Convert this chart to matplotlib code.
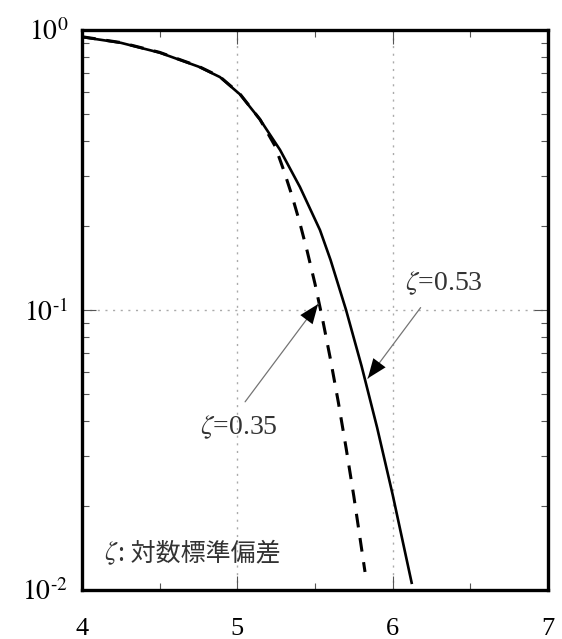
import matplotlib
matplotlib.use("Agg")
import matplotlib.pyplot as plt
from matplotlib.ticker import LogLocator, MultipleLocator, NullFormatter

plt.rcParams['font.family'] = ['Liberation Serif', 'Noto Sans CJK JP', 'DejaVu Sans']
plt.rcParams['mathtext.fontset'] = 'stix'

# Solid curve (zeta = 0.53)
solid_x = [4.0, 4.25, 4.5, 4.75, 4.888, 5.017, 5.146, 5.275, 5.403, 5.532, 5.6,
           5.70, 5.80, 5.90, 6.00, 6.124]
solid_y = [0.944, 0.90, 0.83, 0.74, 0.679, 0.589, 0.479, 0.373, 0.275, 0.193, 0.151,
           0.100, 0.063, 0.038, 0.0219, 0.0105]

# Dashed curve (zeta = 0.35)
dash_x = [4.0, 4.25, 4.5, 4.75, 4.888, 5.017, 5.146, 5.243, 5.30, 5.35, 5.40, 5.45,
          5.50, 5.55, 5.60, 5.65, 5.70, 5.75, 5.822]
dash_y = [0.946, 0.902, 0.832, 0.742, 0.681, 0.591, 0.479, 0.385, 0.314, 0.258, 0.207, 0.162,
          0.124, 0.0919, 0.0665, 0.0469, 0.0322, 0.0216, 0.0116]

x_ticks = [4, 5, 6, 7]
x_tick_labels = ['4', '5', '6', '7']
y_ticks = [1e-2, 1e-1, 1e0]
y_tick_labels = ['$10^{\u20102}$', '$10^{\u20101}$', '$10^{0}$']

fig = plt.figure(figsize=(5.62, 6.39), dpi=100)
ax = fig.add_axes([82/562, 1-590/639, (548-82)/562, (590-30)/639])

ax.plot(solid_x, solid_y, color='black', lw=1.9, solid_capstyle='butt')
ax.plot(dash_x, dash_y, color='black', lw=2.2, dashes=(4.5, 3.5))

ax.set_yscale('log')
ax.set_xlim(4, 7)
ax.set_ylim(1e-2, 1e0)

ax.set_xticks(x_ticks)
ax.set_xticklabels(x_tick_labels, fontsize=19)
ax.xaxis.set_minor_locator(MultipleLocator(0.5))
ax.set_yticks(y_ticks)
ax.set_yticklabels(y_tick_labels, fontsize=20)
ax.yaxis.set_minor_locator(LogLocator(base=10, subs=range(2, 10)))
ax.yaxis.set_minor_formatter(NullFormatter())

ax.tick_params(which='both', direction='in', top=True, right=True, color='#555555')
ax.tick_params(axis='x', which='major', length=10, width=0.8, pad=20)
ax.tick_params(axis='y', which='major', length=10, width=0.8, pad=10)
ax.tick_params(which='minor', length=5, width=0.8)

for s in ax.spines.values():
    s.set_linewidth(2.4)

# grid lines at interior major ticks
for gx in [5, 6]:
    ax.axvline(gx, color='#aaaaaa', lw=1.0, ls=(0, (1.5, 4)), zorder=0)
ax.axhline(0.1, color='#aaaaaa', lw=1.0, ls=(0, (1.5, 4)), zorder=0)

# annotations
def arrow(tail, tip):
    ax.annotate('', xy=tip, xytext=tail,
                arrowprops=dict(arrowstyle='-', color='#777777', lw=0.9,
                                shrinkA=0, shrinkB=0))
    ax.annotate('', xy=tip, xytext=tail,
                arrowprops=dict(arrowstyle='-|>,head_length=1.4,head_width=0.55',
                                color='black', lw=0.01, shrinkA=0, shrinkB=0,
                                fill=True))

ax.text(6.08, 0.125, r'$\zeta$=0.53', fontsize=20, color='#333333', va='center', ha='left')
arrow((6.18, 0.102), (5.84, 0.057))

ax.text(4.76, 0.038, r'$\zeta$=0.35', fontsize=20, color='#333333', va='center', ha='left')
arrow((5.05, 0.047), (5.52, 0.105))

t1 = ax.text(4.14, 0.0135, r'$\zeta$', fontsize=19, color='#333333', va='center', ha='left')
ax.annotate(': 対数標準偏差', xy=(1.0, 0.5), xycoords=t1, va='center', ha='left',
            fontsize=18, color='#333333', family=['Noto Sans CJK JP'])

fig.savefig('out.png', dpi=100)
